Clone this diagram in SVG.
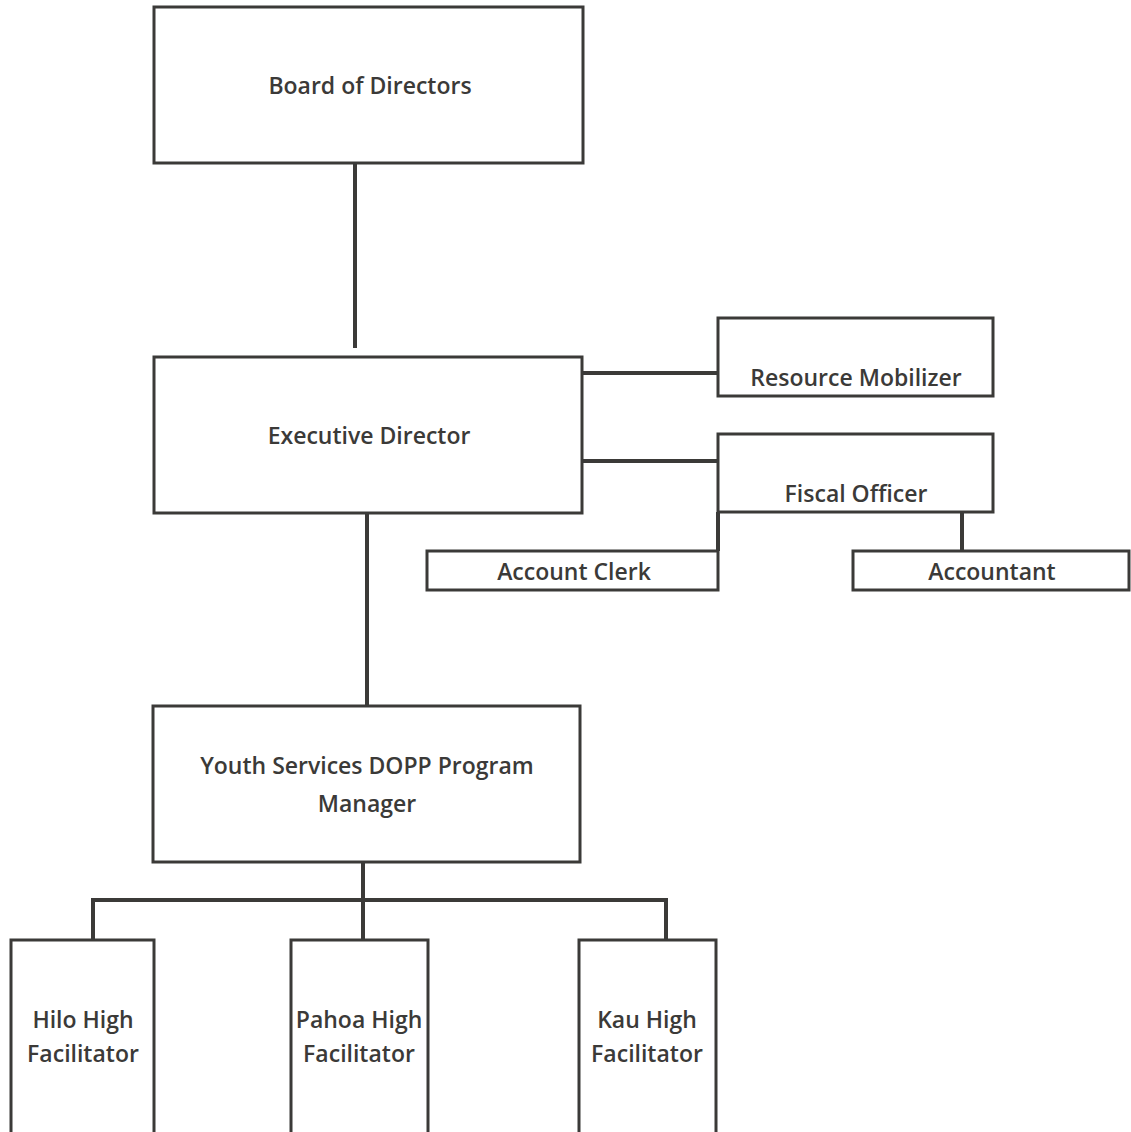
<svg xmlns="http://www.w3.org/2000/svg" width="1131" height="1132" viewBox="0 0 1131 1132">
<style>
.box{fill:#fff;stroke:#3b3a38;stroke-width:3}
.lbl{font-family:"Open Sans","Liberation Sans",sans-serif;font-size:23px;font-weight:600;fill:#3b3a38;text-anchor:middle}
.c{stroke:#3b3a38;stroke-width:4;fill:none}
</style>
<rect width="1131" height="1132" fill="#fff"/>
<g id="connectors">
<path class="c" d="M355 163V348"/>
<path class="c" d="M582 373H718"/>
<path class="c" d="M582 461H718"/>
<path class="c" d="M718 512V551" stroke-width="5"/>
<path class="c" d="M962 512V551" stroke-width="6"/>
<path class="c" d="M367 513V706"/>
<path class="c" d="M363 862V940M93 940V900H666V940"/>
</g>
<g id="board"><rect class="box" x="154" y="7" width="429" height="156"/><text class="lbl" x="370" y="94">Board of Directors</text></g>
<g id="exec"><rect class="box" x="154" y="357" width="428" height="156"/><text class="lbl" x="369" y="444">Executive Director</text></g>
<g id="resource"><rect class="box" x="718" y="318" width="275" height="78"/><text class="lbl" x="856" y="386">Resource Mobilizer</text></g>
<g id="fiscal"><rect class="box" x="718" y="434" width="275" height="78"/><text class="lbl" x="856" y="502">Fiscal Officer</text></g>
<g id="clerk"><rect class="box" x="427" y="551" width="291" height="39"/><text class="lbl" x="574" y="580">Account Clerk</text></g>
<g id="accountant"><rect class="box" x="853" y="551" width="276" height="39"/><text class="lbl" x="992" y="580">Accountant</text></g>
<g id="youth"><rect class="box" x="153" y="706" width="427" height="156"/><text class="lbl" x="367" y="774">Youth Services DOPP Program</text><text class="lbl" x="367" y="812">Manager</text></g>
<g id="hilo"><rect class="box" x="11" y="940" width="143" height="200"/><text class="lbl" x="83" y="1028">Hilo High</text><text class="lbl" x="83" y="1062">Facilitator</text></g>
<g id="pahoa"><rect class="box" x="291" y="940" width="137" height="200"/><text class="lbl" x="359" y="1028">Pahoa High</text><text class="lbl" x="359" y="1062">Facilitator</text></g>
<g id="kau"><rect class="box" x="579" y="940" width="137" height="200"/><text class="lbl" x="647" y="1028">Kau High</text><text class="lbl" x="647" y="1062">Facilitator</text></g>
</svg>
